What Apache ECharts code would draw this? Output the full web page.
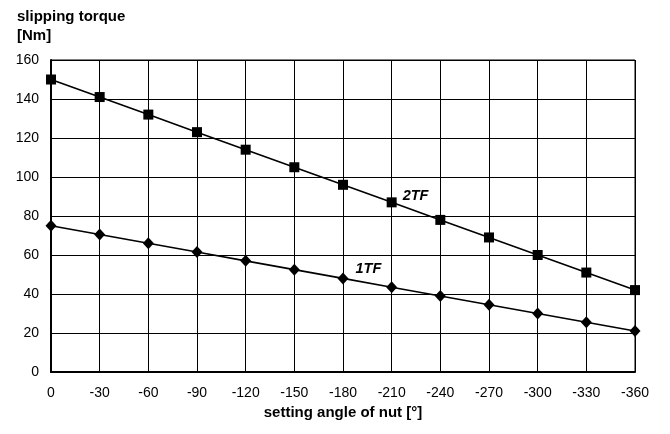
<!DOCTYPE html>
<html><head><meta charset="utf-8">
<script src="https://cdn.jsdelivr.net/npm/echarts@6/dist/echarts.min.js"></script>
<style>html,body{margin:0;padding:0;background:#fff}#c{width:670px;height:434px}</style>
</head><body><div id="c"></div>
<script>
var categories = ['0','-30','-60','-90','-120','-150','-180','-210','-240','-270','-300','-330','-360'];
var tf2 = [150,141,132,123,114,105,96,87,78,69,60,51,42];
var tf1 = [75,70.5,66,61.5,57,52.5,48,43.5,39,34.5,30,25.5,21];
var yTicks = {min:0, max:160, interval:20};
var font = 'Liberation Sans, Arial, sans-serif';

function withLabel(arr, idx, text, offset){
  return arr.map(function(v,i){
    if(i!==idx) return v;
    return {value:v, label:{show:true, formatter:text, position:'right', offset:offset,
      fontFamily:font, fontSize:14.5, fontWeight:'bold', fontStyle:'italic', color:'#000'}};
  });
}

var chart = echarts.init(document.getElementById('c'));
chart.setOption({
  animation:false,
  grid:{left:51, right:35, top:60, bottom:62, show:true, borderColor:'#000', borderWidth:1},
  title:{text:'slipping torque\n[Nm]', left:12, top:2,
    textStyle:{fontFamily:font, fontSize:15, fontWeight:'bold', color:'#000', lineHeight:19}},
  xAxis:{type:'category', data:categories, boundaryGap:false,
    name:'setting angle of nut [°]', nameLocation:'middle', nameGap:33,
    nameTextStyle:{fontFamily:font, fontSize:15, fontWeight:'bold', color:'#000'},
    axisLine:{lineStyle:{color:'#000', width:2}},
    axisTick:{show:false},
    axisLabel:{fontFamily:font, fontSize:14, color:'#000', margin:14},
    splitLine:{show:true, lineStyle:{color:'#000', width:1}}},
  yAxis:{type:'value', min:yTicks.min, max:yTicks.max, interval:yTicks.interval,
    axisLine:{show:true, lineStyle:{color:'#000', width:2}},
    axisTick:{show:false},
    axisLabel:{fontFamily:font, fontSize:14, color:'#000', margin:12},
    splitLine:{show:true, lineStyle:{color:'#000', width:1}}},
  series:[
    {name:'2TF', type:'line', data:withLabel(tf2,7,'2TF',[1,-6]), symbol:'rect', symbolSize:10,
      lineStyle:{color:'#000', width:1.6}, itemStyle:{color:'#000'}},
    {name:'1TF', type:'line', data:withLabel(tf1,6,'1TF',[2,-9]), symbol:'diamond', symbolSize:[11,12],
      lineStyle:{color:'#000', width:1.6}, itemStyle:{color:'#000'}}
  ]
});
</script></body></html>
